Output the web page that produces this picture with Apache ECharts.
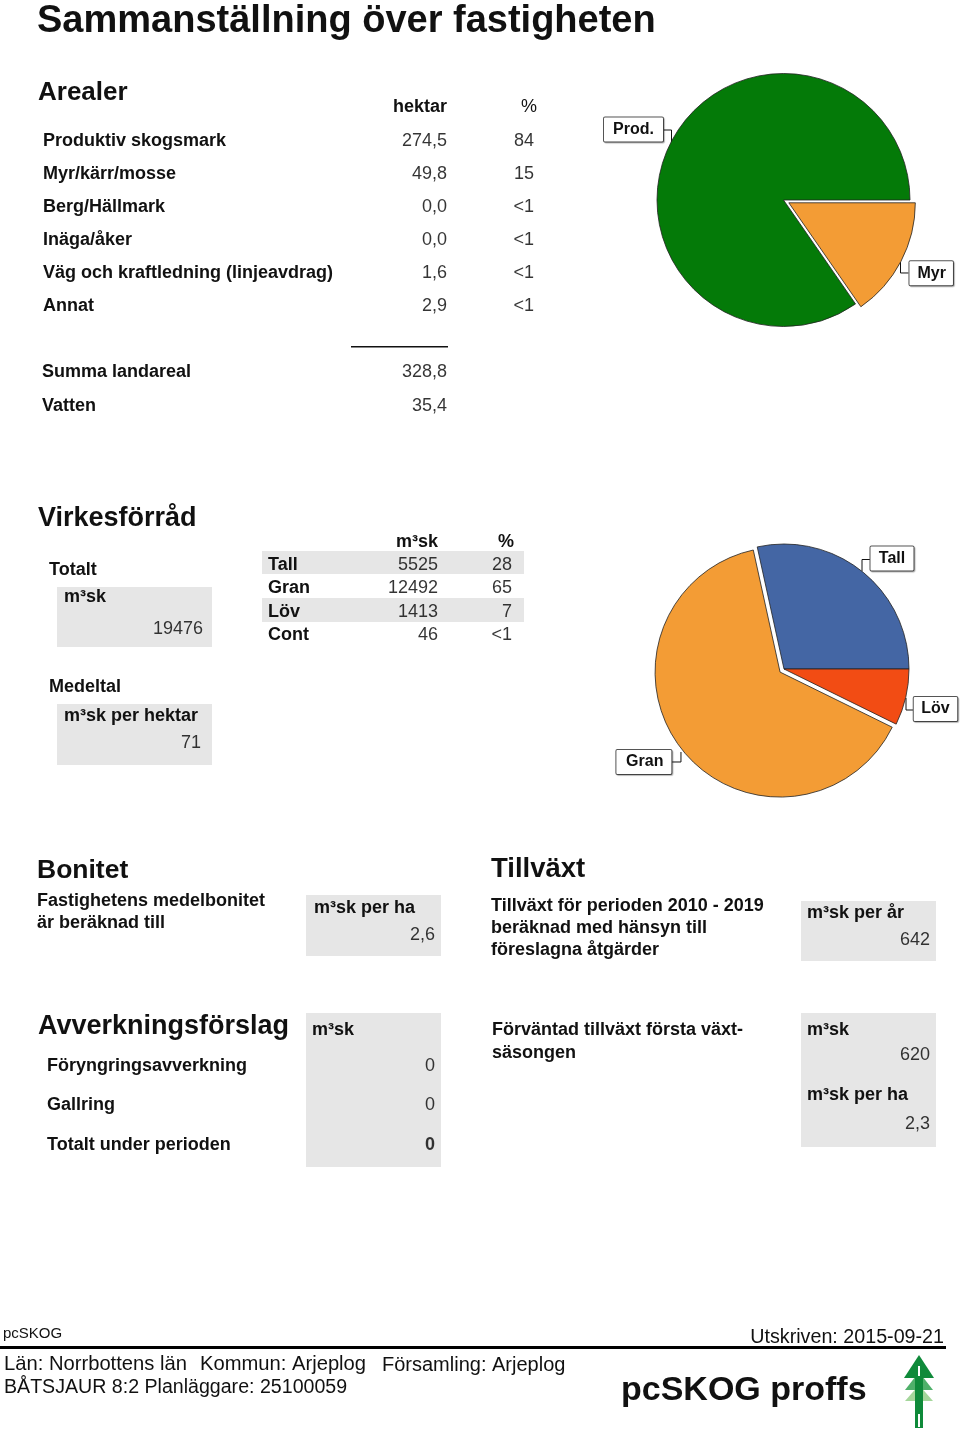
<!DOCTYPE html>
<html><head><meta charset="utf-8">
<style>html,body{margin:0;padding:0;background:#fff}#c{width:960px;height:1437px}</style>
<script src="https://cdn.jsdelivr.net/npm/echarts@6/dist/echarts.min.js"></script>
</head><body><div id="c"></div>
<script>
// ---- data ----
const arealLabels = ['Produktiv skogsmark','Myr/kärr/mosse','Berg/Hällmark','Inäga/åker','Väg och kraftledning (linjeavdrag)','Annat'];
const arealHektar = ['274,5','49,8','0,0','0,0','1,6','2,9'];
const arealPct = ['84','15','<1','<1','<1','<1'];
const summaLabels = ['Summa landareal','Vatten'];
const summaValues = ['328,8','35,4'];
const pieAreaNames = ['Prod.','Myr'];
const pieAreaValues = [274.5,49.8];
const pieAreaColors = ['#047a08','#f39c35'];
const virkeLabels = ['Tall','Gran','Löv','Cont'];
const virkeM3 = [5525,12492,1413,46];
const virkePct = ['28','65','7','<1'];
const pieVirkeNames = ['Tall','Gran','Löv'];
const pieVirkeValues = [5525,12492,1413];
const pieVirkeColors = ['#4466a4','#f39c35','#f24c14'];
const avvLabels = ['Föryngringsavverkning','Gallring','Totalt under perioden'];
const avvValues = ['0','0','0'];

const FONT = '"Liberation Sans", Arial, Helvetica, sans-serif';
const g = [];
function T(x, y, s, size, o) {
  o = o || {};
  g.push({type:'text', x, y:y-size*0.8, silent:true, z:5, style:{
    text:s, fill:'#111', fontFamily:FONT, fontSize:size,
    fontWeight:o.b?'bold':'normal', textAlign:o.r?'right':'left',
    opacity:o.op||1}});
}
function B(x, y, s, size, o){ T(x,y,s,size,Object.assign({b:1},o||{})); }
function R(x, y, s, size, o){ T(x,y,s,size,Object.assign({r:1},o||{})); }
function box(x0,y0,x1,y1,fill){ g.push({type:'rect',silent:true,z:1,shape:{x:x0,y:y0,width:x1-x0,height:y1-y0},style:{fill:fill||'#e6e6e6'}}); }
function poly(points,fill,z){ g.push({type:'polygon',silent:true,z,shape:{points},style:{fill}}); }

// heading
B(37,32.5,'Sammanställning över fastigheten',38);
// Arealer
B(38,101,'Arealer',26);
B(447,112,'hektar',18,{r:1}); R(537,112,'%',18);
arealLabels.forEach((l,i)=>{const y=146+i*33.1; B(43,y,l,18); R(447,y,arealHektar[i],18,{op:.85}); R(534,y,arealPct[i],18,{op:.85});});
g.push({type:'rect',silent:true,shape:{x:351,y:346,width:97,height:1.5},style:{fill:'#111'}});
summaLabels.forEach((l,i)=>{const y=377+i*34; B(42,y,l,18); R(447,y,summaValues[i],18,{op:.85});});
// Virkesförråd
B(38,527,'Virkesförråd',27);
B(49,575,'Totalt',18);
box(57,587,212,647); B(64,602,'m³sk',18); R(203,634,String(virkeM3.reduce((a,b)=>a+b,0)),18,{op:.85});
B(49,692,'Medeltal',18);
box(57,704,212,765); B(64,721,'m³sk per hektar',18); R(201,748,'71',18,{op:.85});
B(438,547,'m³sk',18,{r:1}); B(514,547,'%',18,{r:1});
box(262,551,524,574); box(262,598,524,622);
virkeLabels.forEach((l,i)=>{const y=570+i*23.5; B(268,y,l,18); R(438,y,String(virkeM3[i]),18,{op:.85}); R(512,y,virkePct[i],18,{op:.85});});
// Bonitet
B(37,878,'Bonitet',26.5);
B(37,906,'Fastighetens medelbonitet',18); B(37,928,'är beräknad till',18);
box(306,895,441,956); B(314,913,'m³sk per ha',18); R(435,940,'2,6',18,{op:.85});
// Tillväxt
B(491,877,'Tillväxt',27.5);
B(491,911,'Tillväxt för perioden 2010 - 2019',18); B(491,933,'beräknad med hänsyn till',18); B(491,955,'föreslagna åtgärder',18);
box(801,901,936,961); B(807,918,'m³sk per år',18); R(930,945,'642',18,{op:.85});
// Avverkning
B(38,1035,'Avverkningsförslag',27);
box(306,1013,441,1167); B(312,1035,'m³sk',18);
avvLabels.forEach((l,i)=>{const y=[1071,1110,1150][i]; B(47,y,l,18); R(435,y,avvValues[i],18,{op:.85,b:i===2});});
B(492,1035,'Förväntad tillväxt första växt-',18); B(492,1058,'säsongen',18);
box(801,1013,936,1147); B(807,1035,'m³sk',18); R(930,1060,'620',18,{op:.85}); B(807,1100,'m³sk per ha',18); R(930,1129,'2,3',18,{op:.85});
// Footer
T(3,1338,'pcSKOG',15);
R(944,1343,'Utskriven: 2015-09-21',19.7);
g.push({type:'rect',silent:true,shape:{x:0,y:1346,width:946,height:3},style:{fill:'#000'}});
T(4,1371,'Län: Norrbottens län',20.2); T(200,1371,'Kommun: Arjeplog',20.2); T(382,1371,'Församling: Arjeplog',20);
T(4,1393,'BÅTSJAUR 8:2 Planläggare: 25100059',19.6);
B(621,1401,'pcSKOG proffs',34);
// tree logo
poly([[919,1385],[933,1401],[905,1401]],'#a5d69b',2);
poly([[919,1372],[933,1390],[905,1390]],'#4fb06a',3);
poly([[919,1355],[934,1378],[904,1378]],'#0f8a3a',4);
g.push({type:'rect',silent:true,z:5,shape:{x:915,y:1370,width:8,height:58},style:{fill:'#0f8a3a'}});
g.push({type:'rect',silent:true,z:6,shape:{x:918,y:1366,width:2,height:10},style:{fill:'#fff'}});
g.push({type:'rect',silent:true,z:6,shape:{x:918,y:1414,width:2,height:13},style:{fill:'#fff'}});

function pie(names, values, colors, cx, cy, r, exploded, offset, lay, widths, lines) {
  return {
    type:'pie', clockwise:false, startAngle:0, center:[cx,cy], radius:[0,r], animation:false,
    selectedMode:'multiple', selectedOffset:offset, avoidLabelOverlap:false,
    data:names.map((n,i)=>({name:n,value:values[i],selected:n===exploded,itemStyle:{color:colors[i]},label:{width:widths[i]},labelLine:lines[i]||undefined})),
    itemStyle:{borderColor:'#222',borderWidth:0.8},
    emphasis:{disabled:true},
    label:{show:true,position:'outer',overflow:'none',align:'center',formatter:'{b}',color:'#111',fontFamily:FONT,fontSize:16,fontWeight:'bold',
      backgroundColor:'#fff',borderColor:'#555',borderWidth:1,borderRadius:1,padding:[4,8,4,8],
      shadowColor:'rgba(0,0,0,0.25)',shadowOffsetX:1,shadowOffsetY:1,shadowBlur:1},
    labelLine:{show:true,smooth:false,lineStyle:{color:'#111',width:1}},
    labelLayout:p=>lay[p.dataIndex]
  };
}
const chart = echarts.init(document.getElementById('c'),null,{width:960,height:1437});
chart.setOption({
  backgroundColor:'#fff', animation:false,
  series:[
    pie(pieAreaNames,pieAreaValues,pieAreaColors,783.5,200,126.5,'Myr',6,[
      {x:633.5,y:129.5,align:'center',verticalAlign:'middle',labelLinePoints:[[671.5,142],[671.5,130],[663,130]]},
      {labelLinePoints:[[895.2,259.2],[895.2,270.2],[903.2,270.2]]}
    ],[43,27.5],[null,{length:25.5,length2:-19}]),
    pie(pieVirkeNames,pieVirkeValues,pieVirkeColors,784,669,125,'Gran',5,[
      {x:892,y:558.5,align:'center',verticalAlign:'middle',labelLinePoints:[[862,571],[862,559.5],[871,559.5]]},
      {labelLinePoints:[[684.9,748.9],[684.9,758.9],[675.9,758.9]]},
      {x:935.5,y:709,align:'center',verticalAlign:'middle',labelLinePoints:[[906,698],[906,710],[914,710]]}
    ],[27,39,27.5],[null,{length:20.7,length2:-11},null])
  ],
  graphic:{elements:g}
});
</script></body></html>
